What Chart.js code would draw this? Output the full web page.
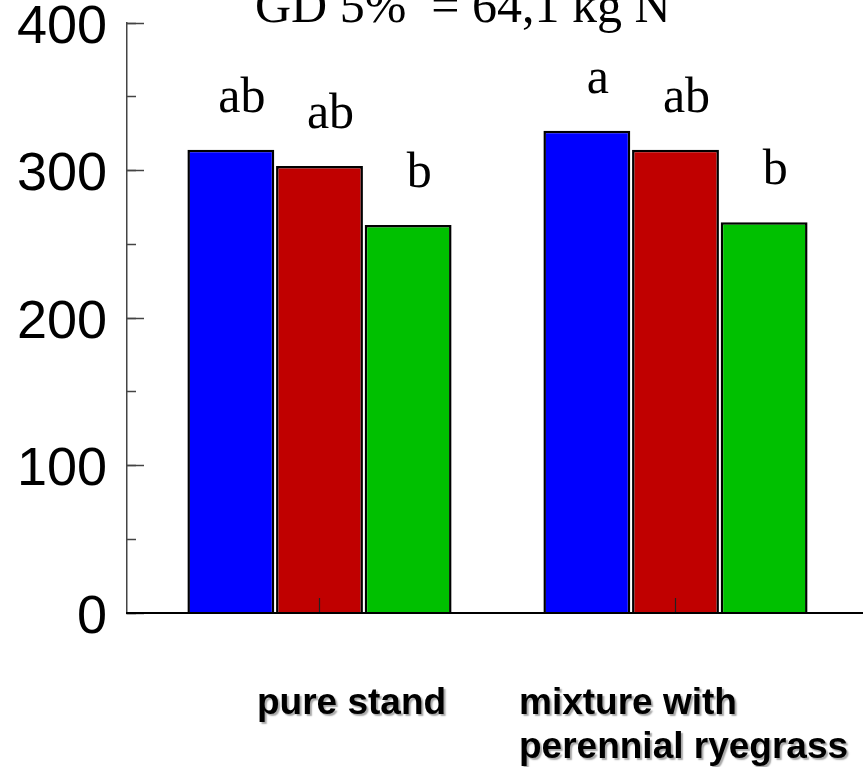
<!DOCTYPE html>
<html>
<head>
<meta charset="utf-8">
<script src="https://cdn.jsdelivr.net/npm/chart.js@4/dist/chart.umd.min.js"></script>
<style>
  html, body { margin: 0; padding: 0; background: #ffffff; }
  #wrap { width: 863px; height: 767px; position: relative; }
</style>
</head>
<body>
<div id="wrap"><canvas id="c" width="863" height="767"></canvas></div>
<script>
// ---- data ----
const categories = [["pure stand"], ["mixture with", "perennial ryegrass"]];
const seriesNames = ["A", "B", "C"];
const seriesA = [314, 327];
const seriesB = [303, 314];
const seriesC = [263, 265];
const lettersA = ["ab", "a"];
const lettersB = ["ab", "ab"];
const lettersC = ["b", "b"];
const yTickValues = [0, 100, 200, 300, 400];
const titleText = "GD 5%  = 64,1 kg N";

// ---- build ----
const seriesValues = [seriesA, seriesB, seriesC];
const seriesLetters = [lettersA, lettersB, lettersC];
const colors = ["#0000ff", "#c00000", "#00c000"];
const xMin = -0.5407, xMax = 1.5267;

const datasets = seriesValues.map((vals, s) => ({
  label: seriesNames[s],
  data: vals.map((v, i) => ({ x: i, y: v })),
  backgroundColor: colors[s],
  borderColor: "#000000",
  borderWidth: 2.5,
  categoryPercentage: 0.747,
  barPercentage: 0.98
}));

const annotatePlugin = {
  id: "annotate",
  afterDraw(chart, args, opts) {
    const ctx = chart.ctx;
    // significance letters above bars
    ctx.save();
    ctx.fillStyle = "#000";
    ctx.font = "50px 'Liberation Serif', 'Times New Roman', serif";
    ctx.textAlign = "center";
    ctx.textBaseline = "alphabetic";
    chart.data.datasets.forEach((ds, s) => {
      const meta = chart.getDatasetMeta(s);
      meta.data.forEach((bar, i) => {
        ctx.fillText(seriesLetters[s][i], bar.x + opts.letterDx, bar.y - opts.letterGap);
      });
    });
    // title (partly cut at top)
    ctx.textAlign = "left";
    ctx.fillText(titleText, opts.titleX, opts.titleY);
    ctx.restore();

    // category labels below axis
    const xs = chart.scales.x;
    ctx.save();
    ctx.font = "bold 37px 'Liberation Sans', Arial, sans-serif";
    ctx.fillStyle = "#000";
    ctx.textAlign = "left";
    ctx.textBaseline = "alphabetic";
    ctx.shadowColor = "rgba(0,0,0,0.35)";
    ctx.shadowOffsetX = 2;
    ctx.shadowOffsetY = 2;
    ctx.shadowBlur = 1.5;
    categories.forEach((lines, i) => {
      const left = xs.getPixelForValue(i) + opts.catDx[i];
      lines.forEach((ln, k) => {
        ctx.fillText(ln, left, chart.chartArea.bottom + opts.catTop + k * opts.catLine);
      });
    });
    ctx.restore();
  }
};

new Chart(document.getElementById("c"), {
  type: "bar",
  data: { datasets },
  options: {
    responsive: false,
    animation: false,
    events: [],
    layout: { padding: { top: 23, right: 0, bottom: 0, left: 0 } },
    plugins: {
      legend: { display: false },
      tooltip: { enabled: false },
      title: { display: false },
      annotate: {
        letterDx: 11, letterGap: 38,
        titleX: 255, titleY: 22,
        catDx: [-62.5, -156.5], catTop: 101, catLine: 44
      }
    },
    scales: {
      x: {
        type: "linear",
        z: 1,
        min: xMin, max: xMax,
        offset: false,
        afterBuildTicks: (scale) => { scale.ticks = categories.map((_, i) => ({ value: i })); },
        afterFit: (scale) => { scale.height = 154; scale.paddingLeft = 0; scale.paddingRight = 0; },
        ticks: { display: false },
        grid: { z: 1, offset: false, drawOnChartArea: false, drawTicks: true, tickLength: -15, tickColor: "#222", tickWidth: 1.2 },
        border: { z: 1, display: true, color: "#000000", width: 2 }
      },
      y: {
        type: "linear",
        position: "left",
        min: 0, max: 400,
        afterBuildTicks: (scale) => { scale.ticks = yTickValues.map(v => ({ value: v })); },
        afterFit: (scale) => { scale.width = 127; scale.paddingTop = 0; scale.paddingBottom = 0; },
        ticks: {
          color: "#000",
          font: { family: "'Liberation Sans', Arial, sans-serif", size: 54, lineHeight: 1 },
          padding: 37,
          labelOffset: 5
        },
        grid: { drawOnChartArea: false, drawTicks: true, tickLength: -17, tickColor: "#444", tickWidth: 1.5 },
        border: { display: true, color: "#444", width: 1.5 }
      },
      y2: {
        type: "linear",
        axis: "y",
        position: { x: xMin },
        min: 0, max: 400,
        ticks: { display: false, stepSize: 50 },
        afterFit: (scale) => { scale.width = 0; scale.paddingTop = 0; scale.paddingBottom = 0; },
        grid: { drawOnChartArea: false, drawTicks: true, tickLength: -9, tickColor: "#444", tickWidth: 1.5 },
        border: { display: false }
      }
    }
  },
  plugins: [annotatePlugin]
});
</script>
</body>
</html>
